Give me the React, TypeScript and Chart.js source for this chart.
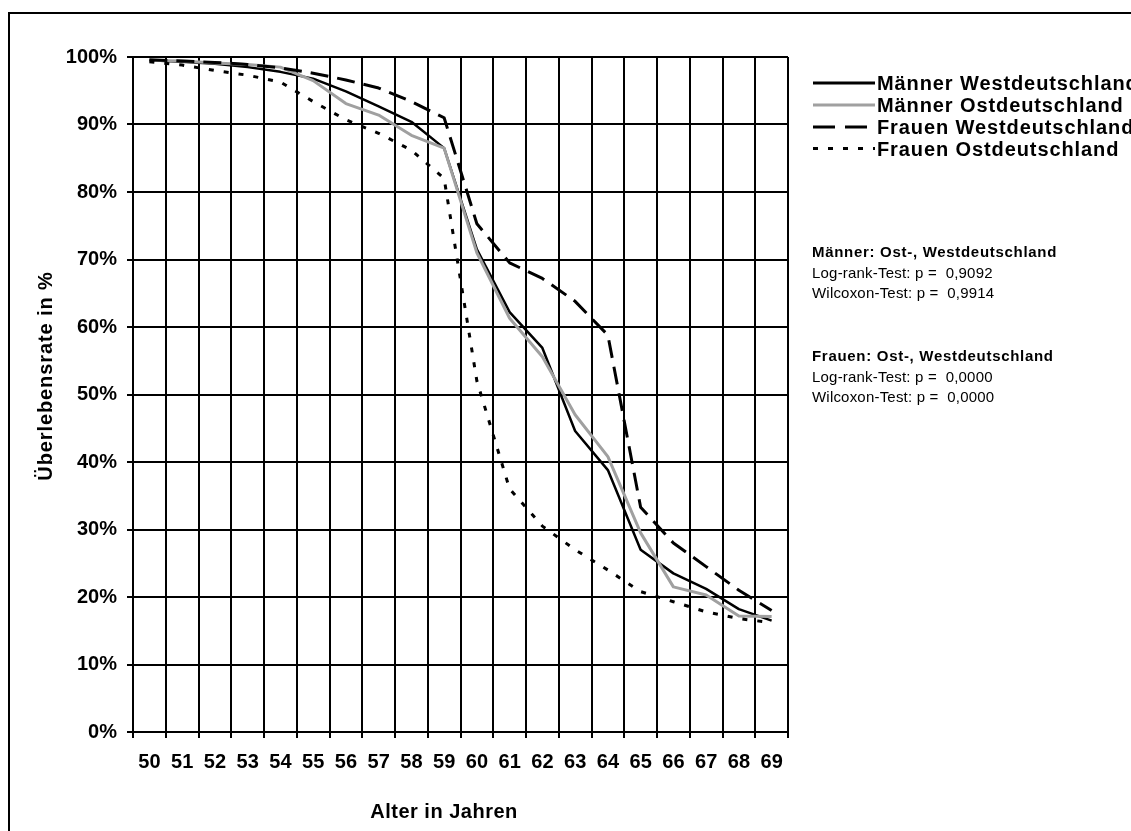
import React, { useEffect, useRef } from 'react';
import { Chart, registerables } from 'chart.js';

Chart.register(...registerables);

const ages = ['50', '51', '52', '53', '54', '55', '56', '57', '58', '59', '60', '61', '62', '63', '64', '65', '66', '67', '68', '69'];

const maennerWest = [99.5, 99.3, 99.0, 98.5, 97.8, 96.8, 94.9, 92.7, 90.4, 86.5, 71.5, 62.2, 56.9, 44.6, 38.8, 27.0, 23.5, 21.2, 18.2, 16.5];
const maennerOst = [99.5, 99.4, 99.1, 98.9, 98.5, 96.5, 93.1, 91.4, 88.4, 86.5, 71.0, 61.3, 55.6, 47.0, 40.8, 29.5, 21.5, 20.3, 17.2, 17.1];
const frauenWest = [99.6, 99.4, 99.2, 98.9, 98.4, 97.6, 96.6, 95.4, 93.4, 91.0, 75.3, 69.5, 67.2, 63.8, 58.8, 33.3, 28.0, 24.5, 21.0, 18.0];
const frauenOst = [99.3, 98.8, 98.0, 97.3, 96.3, 93.4, 90.7, 88.7, 86.2, 82.0, 52.0, 36.0, 30.5, 27.0, 24.0, 20.8, 19.3, 17.8, 16.8, 16.2];

const seriesLabels = ['Männer Westdeutschland', 'Männer Ostdeutschland', 'Frauen Westdeutschland', 'Frauen Ostdeutschland'];
const statsMaenner = ['Männer: Ost-, Westdeutschland', 'Log-rank-Test: p =  0,9092', 'Wilcoxon-Test: p =  0,9914'];
const statsFrauen = ['Frauen: Ost-, Westdeutschland', 'Log-rank-Test: p =  0,0000', 'Wilcoxon-Test: p =  0,0000'];
const xTitle = 'Alter in Jahren';
const yTitle = 'Überlebensrate in %';

const FONT = "'Liberation Sans', Arial, sans-serif";

const styles = [
  { color: '#000000', width: 2.5, dash: [] as number[] },
  { color: '#a0a0a0', width: 3, dash: [] as number[] },
  { color: '#000000', width: 3, dash: [18, 9] },
  { color: '#000000', width: 3, dash: [5, 10] },
];

const decorPlugin = {
  id: 'decor',
  afterDraw(chart: any) {
    const ctx = chart.ctx as CanvasRenderingContext2D;
    ctx.save();
    // outer frame
    ctx.strokeStyle = '#000';
    ctx.lineWidth = 2;
    ctx.setLineDash([]);
    ctx.beginPath();
    ctx.moveTo(9, 840);
    ctx.lineTo(9, 13);
    ctx.lineTo(1140, 13);
    ctx.stroke();

    ctx.fillStyle = '#000';
    // y title
    ctx.save();
    (ctx as any).letterSpacing = '0.9px';
    ctx.font = `bold 20px ${FONT}`;
    ctx.translate(46, 376);
    ctx.rotate(-Math.PI / 2);
    ctx.textAlign = 'center';
    ctx.textBaseline = 'middle';
    ctx.fillText(yTitle, 0, 0);
    ctx.restore();

    // x title
    ctx.save();
    (ctx as any).letterSpacing = '0.5px';
    ctx.font = `bold 20px ${FONT}`;
    ctx.textAlign = 'center';
    ctx.textBaseline = 'middle';
    ctx.fillText(xTitle, 444, 812);
    ctx.restore();

    // legend
    const lineYs = [83, 105, 127, 148.5];
    const baseYs = [90, 112, 134, 155.5];
    seriesLabels.forEach((label, i) => {
      const st = styles[i];
      ctx.save();
      ctx.strokeStyle = st.color;
      ctx.lineWidth = 3;
      ctx.setLineDash(st.dash.length ? (i === 2 ? [22, 10] : [5, 10]) : []);
      ctx.beginPath();
      ctx.moveTo(813, lineYs[i]);
      ctx.lineTo(875, lineYs[i]);
      ctx.stroke();
      ctx.restore();
      ctx.save();
      (ctx as any).letterSpacing = '0.9px';
      ctx.font = `bold 20px ${FONT}`;
      ctx.textAlign = 'left';
      ctx.textBaseline = 'alphabetic';
      ctx.fillText(label, 877, baseYs[i]);
      ctx.restore();
    });

    // statistics text
    const drawBlock = (lines: string[], ys: number[]) => {
      lines.forEach((t, i) => {
        ctx.save();
        ctx.textAlign = 'left';
        ctx.textBaseline = 'middle';
        if (i === 0) {
          (ctx as any).letterSpacing = '0.7px';
          ctx.font = `bold 15px ${FONT}`;
        } else {
          (ctx as any).letterSpacing = '0.2px';
          ctx.font = `15px ${FONT}`;
        }
        ctx.fillText(t, 812, ys[i]);
        ctx.restore();
      });
    };
    drawBlock(statsMaenner, [253, 274, 294]);
    drawBlock(statsFrauen, [357, 378, 398]);
    ctx.restore();
  },
};

export default function App() {
  const ref = useRef<HTMLCanvasElement | null>(null);
  useEffect(() => {
    if (!ref.current) return;
    const data = [maennerWest, maennerOst, frauenWest, frauenOst];
    const chart = new Chart(ref.current, {
      type: 'line',
      data: {
        labels: ages,
        datasets: data.map((d, i) => ({
          label: seriesLabels[i],
          data: d,
          borderColor: styles[i].color,
          borderWidth: styles[i].width,
          borderDash: styles[i].dash,
          pointRadius: 0,
          tension: 0,
          fill: false,
          borderJoinStyle: 'round' as const,
          order: 4 - i,
        })),
      },
      options: {
        responsive: false,
        animation: false,
        layout: { padding: { left: 0, top: 57, right: 343, bottom: 0 } },
        plugins: { legend: { display: false }, tooltip: { enabled: false } },
        scales: {
          x: {
            type: 'category',
            offset: true,
            grid: { offset: true, color: '#000', lineWidth: 2, tickLength: 6, drawTicks: true },
            border: { color: '#000', width: 2 },
            ticks: {
              color: '#000',
              font: { family: FONT, size: 20, weight: 'bold' },
              padding: 12,
              maxRotation: 0,
              autoSkip: false,
            },
            afterFit: (s: any) => { s.height = 99; },
          },
          y: {
            min: 0,
            max: 100,
            grid: { color: '#000', lineWidth: 2, tickLength: 6, drawTicks: true },
            border: { color: '#000', width: 2 },
            ticks: {
              stepSize: 10,
              color: '#000',
              font: { family: FONT, size: 20, weight: 'bold' },
              padding: 10,
              callback: (v: any) => `${v}%`,
            },
            afterFit: (s: any) => { s.width = 133; },
          },
        },
      },
      plugins: [decorPlugin],
    });
    return () => chart.destroy();
  }, []);
  return (
    <div style={{ position: 'fixed', left: 0, top: 0, width: 1131, height: 831, background: '#fff' }}>
      <canvas ref={ref} width={1131} height={831} style={{ display: 'block' }} />
    </div>
  );
}
